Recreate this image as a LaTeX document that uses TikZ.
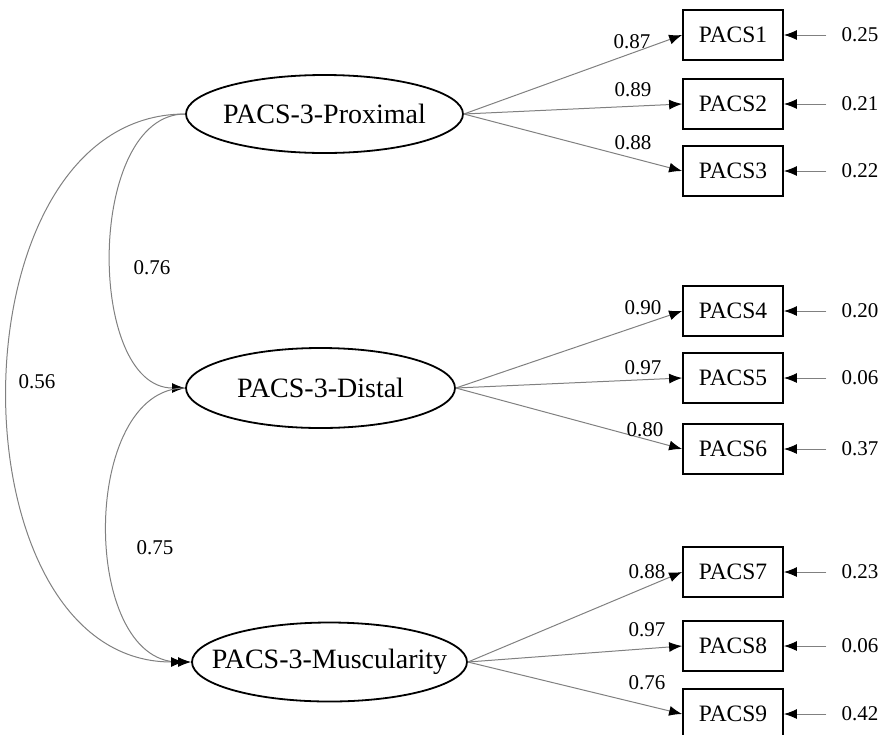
\documentclass[tikz,border=0pt]{standalone}
\usepackage{fontspec}
\setmainfont{Liberation Serif}
\usetikzlibrary{shapes.geometric,arrows.meta}
\begin{document}
\begin{tikzpicture}[x=1pt,y=-1pt,
  latent/.style={draw=black,line width=1.8pt,ellipse,inner sep=0pt,font=\fontsize{28}{30}\selectfont},
  obs/.style={draw=black,line width=1.8pt,rectangle,minimum width=100pt,minimum height=50pt,inner sep=0pt,font=\fontsize{23.5}{26}\selectfont},
  num/.style={inner sep=0pt,font=\fontsize{21}{23}\selectfont},
  err/.style={inner ysep=0pt,inner xsep=15pt,font=\fontsize{21}{23}\selectfont},
  arr/.style={draw=black!50,line width=1pt,-{Latex[length=13pt,width=10pt,color=black]}}
]
\useasboundingbox (0,0) rectangle (882,734);
% latent variables
\node[latent,minimum width=277pt,minimum height=78pt] (p) at (324.5,114) {\makebox[0pt][c]{PACS-3-Proximal}};
\node[latent,minimum width=269pt,minimum height=80pt] (d) at (320.5,388) {\makebox[0pt][c]{PACS-3-Distal}};
\node[latent,minimum width=275pt,minimum height=79pt] (m) at (329.5,662) {\makebox[0pt][c]{PACS-3-Muscularity}};
% observed
\foreach \n/\y in {1/35,2/104,3/171,4/311,5/378,6/449,7/572,8/646,9/714}{
  \node[obs] (b\n) at (733,\y) {PACS\n};
}
% errors
\foreach \n/\y/\v in {1/35/0.25,2/104/0.21,3/171/0.22,4/311/0.20,5/378/0.06,6/449/0.37,7/572/0.23,8/646/0.06,9/714/0.42}{
  \node[err] (e\n) at (860,\y) {\v};
  \draw[arr] (e\n.west) -- (b\n.east);
}
% loadings
\foreach \n in {1,2,3}{\draw[arr] (p.east) -- (b\n.west);}
\foreach \n in {4,5,6}{\draw[arr] (d.east) -- (b\n.west);}
\foreach \n in {7,8,9}{\draw[arr] (m.east) -- (b\n.west);}
\node[num] (l1) at (632,42) {0.87};
\node[num] (l2) at (633,90) {0.89};
\node[num] (l3) at (633,143) {0.88};
\node[num] (l4) at (643,308) {0.90};
\node[num] (l5) at (643,368) {0.97};
\node[num] (l6) at (645,430) {0.80};
\node[num] (l7) at (647,572) {0.88};
\node[num] (l8) at (647,630) {0.97};
\node[num] (l9) at (647,683) {0.76};
% covariances
\coordinate (mw) at ([xshift=-7pt]m.west);
\draw[arr] (p.west) .. controls (86,114) and (86,388) .. (d.west);
\draw[arr] (d.west) .. controls (80,388) and (80,662) .. (m.west);
\draw[arr] (p.west) .. controls (-52,114) and (-52,662) .. (mw);
\node[num] (c1) at (152,268) {0.76};
\node[num] (c2) at (37,382) {0.56};
\node[num] (c3) at (155,548) {0.75};
\end{tikzpicture}
\end{document}
